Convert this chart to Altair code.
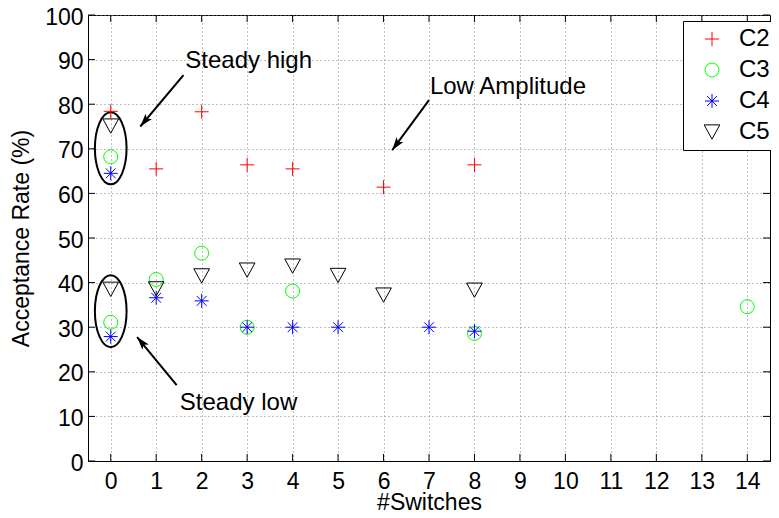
import altair as alt
import pandas as pd

FONT = "Liberation Sans"

series = ["C2", "C3", "C4", "C5"]
colors = ["#ff0000", "#00ff00", "#0000ff", "#000000"]

c2_x = [0, 1, 2, 3, 4, 6, 8]
c2_y = [78.4, 65.5, 78.3, 66.4, 65.5, 61.4, 66.4]
c3_x = [0, 0, 1, 2, 3, 4, 8, 14]
c3_y = [68.2, 31.1, 40.7, 46.6, 30.0, 38.1, 28.6, 34.6]
c4_x = [0, 0, 1, 2, 3, 4, 5, 7, 8]
c4_y = [64.5, 27.9, 36.6, 35.9, 30.0, 30.0, 30.0, 30.0, 29.1]
c5_x = [0, 0, 1, 2, 3, 4, 5, 6, 8]
c5_y = [75.1, 38.5, 38.6, 41.5, 42.8, 43.7, 41.6, 37.2, 38.3]

x_ticks = list(range(0, 15))
y_ticks = list(range(0, 101, 10))

ann_text = ["Steady high", "Low Amplitude", "Steady low"]
ann_x = [1.64, 7.02, 1.52]
ann_y = [88.1, 82.2, 11.4]
arrow_x0 = [1.60, 7.00, 1.45]
arrow_y0 = [86.5, 80.9, 17.0]
arrow_x1 = [0.65, 6.19, 0.58]
arrow_y1 = [75.0, 69.7, 27.8]
arrow_angle = [220, 216, 320]
ell_x = [0, 0]
ell_y = [70.1, 33.6]

PLUS = "M-1,0L1,0M0,-1L0,1"
STAR = "M-1,0L1,0M0,-1L0,1M-0.7,-0.7L0.7,0.7M-0.7,0.7L0.7,-0.7"
TRI = "M-1.12,-1.02L1.12,-1.02L0,1.02Z"
ELL = ("M0,-1C0.243,-1 0.44,-0.552 0.44,0C0.44,0.552 0.243,1 0,1"
       "C-0.243,1 -0.44,0.552 -0.44,0C-0.44,-0.552 -0.243,-1 0,-1Z")
HEAD = "M0,0L0.7,2.2L0,1.7L-0.7,2.2Z"
shapes = [PLUS, "circle", STAR, TRI]

W, H = 682, 446

rows = []
for name, xs_, ys_ in zip(series, [c2_x, c3_x, c4_x, c5_x], [c2_y, c3_y, c4_y, c5_y]):
    for a, b in zip(xs_, ys_):
        rows.append({"x": a, "y": b, "series": name})
df_pts = pd.DataFrame(rows)
df_xt = pd.DataFrame({"x": x_ticks})
df_yt = pd.DataFrame({"y": y_ticks})
df_ann = pd.DataFrame({"x": ann_x, "y": ann_y, "t": ann_text})
df_arr = pd.DataFrame({"x": arrow_x0, "y": arrow_y0, "x2": arrow_x1, "y2": arrow_y1})
df_head = pd.DataFrame({"x": arrow_x1, "y": arrow_y1, "ang": arrow_angle})
df_ell = pd.DataFrame({"x": ell_x, "y": ell_y})

xs = alt.Scale(domain=[-0.5, 14.5], nice=False, zero=False)
ys = alt.Scale(domain=[0, 100], nice=False, zero=False)
xaxis = alt.Axis(values=x_ticks, title="#Switches", labelPadding=9, titlePadding=16,
                 titleBaseline="alphabetic", format="d")
yaxis = alt.Axis(values=y_ticks, title="Acceptance Rate (%)", labelPadding=5, titlePadding=11,
                 labelOffset=2, format="d")
xenc = alt.X("x:Q", scale=xs, axis=xaxis)
yenc = alt.Y("y:Q", scale=ys, axis=yaxis)

leg = alt.Legend(title=None, orient="none", legendX=595, legendY=6, padding=6, rowPadding=7,
                 symbolOffset=11, labelOffset=15, labelFontSize=24, labelFont=FONT,
                 labelColor="black", symbolSize=196, symbolStrokeWidth=1,
                 strokeColor="black", fillColor="white")

pts = alt.Chart(df_pts).mark_point(filled=False, size=196, strokeWidth=1, opacity=1).encode(
    x=xenc, y=yenc,
    color=alt.Color("series:N", scale=alt.Scale(domain=series, range=colors), legend=leg),
    shape=alt.Shape("series:N", scale=alt.Scale(domain=series, range=shapes), legend=leg),
)

tk_l = alt.Chart(df_yt).mark_rule(color="black", strokeWidth=1).encode(
    y=yenc, x=alt.value(0), x2=alt.value(7))
tk_r = alt.Chart(df_yt).mark_rule(color="black", strokeWidth=1).encode(
    y=yenc, x=alt.value(W - 7), x2=alt.value(W))
tk_b = alt.Chart(df_xt).mark_rule(color="black", strokeWidth=1).encode(
    x=xenc, y=alt.value(H - 7), y2=alt.value(H))
tk_t = alt.Chart(df_xt).mark_rule(color="black", strokeWidth=1).encode(
    x=xenc, y=alt.value(0), y2=alt.value(7))

ell = alt.Chart(df_ell).mark_point(shape=ELL, size=5184, filled=False, color="black",
                                   strokeWidth=2, opacity=1).encode(x=xenc, y=yenc)

arr = alt.Chart(df_arr).mark_rule(color="black", strokeWidth=2).encode(
    x=xenc, y=yenc, x2="x2:Q", y2="y2:Q")
head = alt.Chart(df_head).mark_point(shape=HEAD, size=144, filled=True, color="black",
                                     opacity=1).encode(
    x=xenc, y=yenc, angle=alt.Angle("ang:Q", scale=None))

txt = alt.Chart(df_ann).mark_text(align="left", baseline="alphabetic", fontSize=24,
                                  font=FONT, color="black").encode(x=xenc, y=yenc, text="t:N")

chart = alt.layer(tk_l, tk_r, tk_b, tk_t, ell, arr, head, txt, pts).properties(
    width=W, height=H,
    autosize=alt.AutoSizeParams(type="none"),
    padding={"left": 80, "top": 7, "right": 1, "bottom": 49},
).configure_view(stroke="black", strokeWidth=1).configure_axis(
    ticks=False, domain=True, domainColor="black", domainWidth=1,
    grid=True, gridColor="#808080", gridDash=[1, 3], gridWidth=1, gridOpacity=1,
    labelFont=FONT, labelFontSize=23, labelColor="black",
    titleFont=FONT, titleFontSize=23, titleColor="black", titleFontWeight="normal",
)

chart.save("out.html", embed_options={"renderer": "svg", "actions": False})
